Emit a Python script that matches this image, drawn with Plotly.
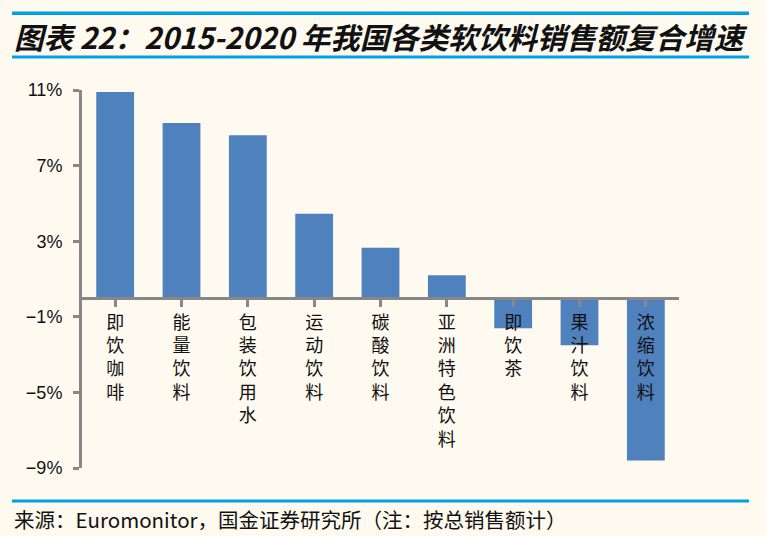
import plotly.graph_objects as go

categories = ["即饮咖啡", "能量饮料", "包装饮用水", "运动饮料", "碳酸饮料",
              "亚洲特色饮料", "即饮茶", "果汁饮料", "浓缩饮料"]
cagr = [10.9, 9.25, 8.6, 4.45, 2.65, 1.2, -1.6, -2.5, -8.6]
y_tickvals = [-9, -5, -1, 3, 7, 11]
y_ticktext = ["−9%", "−5%", "−1%", "3%", "7%", "11%"]
title_text = "图表 22：2015-2020 年我国各类软饮料销售额复合增速"
source_text = "来源：Euromonitor，国金证券研究所（注：按总销售额计）"

W, H = 766, 536
L, R, T, B = 82, 87, 90, 68
pw, ph = W - L - R, H - T - B
BG = "#FEFAF0"
LINE_BLUE = "#00A0E9"
AXIS_GRAY = "#878787"
CJK = "Noto Sans CJK SC, sans-serif"

def px_x(x):
    return (x - L) / pw

def px_y(y):
    return (H - B - y) / ph

ymin, ymax = -9, 11
zero_pos = (0 - ymin) / (ymax - ymin)

fig = go.Figure(go.Bar(
    x=list(range(len(categories))), y=cagr,
    marker=dict(color="#4F81BD", line=dict(width=0)),
    hoverinfo="skip",
))

fig.update_layout(
    width=W, height=H,
    margin=dict(l=L, r=R, t=T, b=B),
    paper_bgcolor=BG, plot_bgcolor=BG,
    bargap=0.43,
    showlegend=False,
    xaxis=dict(
        tickmode="array",
        tickvals=list(range(len(categories))),
        ticktext=["<br>".join(list(c)) for c in categories],
        range=[-0.5, len(categories) - 0.5],
        anchor="free", position=zero_pos,
        showline=True, linecolor=AXIS_GRAY, linewidth=3,
        ticks="outside", tickson="boundaries", ticklen=7,
        tickcolor=AXIS_GRAY, tickwidth=3,
        showgrid=False, zeroline=False,
        tickfont=dict(family=CJK, size=18, color="#111111"),
    ),
    yaxis=dict(
        range=[ymin, ymax],
        tickmode="array", tickvals=y_tickvals, ticktext=y_ticktext,
        showline=True, linecolor=AXIS_GRAY, linewidth=3,
        ticks="outside", ticklen=6, tickcolor=AXIS_GRAY, tickwidth=3,
        ticklabelstandoff=7,
        showgrid=False, zeroline=False,
        tickfont=dict(family="Liberation Sans, Arial, sans-serif", size=18, color="#111111"),
    ),
)

# separator rules: top, under title, above source
for yy in (13, 57, 501):
    fig.add_shape(type="rect", xref="paper", yref="paper",
                  x0=px_x(12), x1=px_x(749), y0=px_y(yy - 1.5), y1=px_y(yy + 1.5),
                  fillcolor=LINE_BLUE, line=dict(width=0), layer="above")

# top rule also as a filled annotation box
fig.add_annotation(
    text=" ", xref="paper", yref="paper",
    x=px_x(12), xanchor="left", y=px_y(13), yanchor="middle",
    width=737, height=3, bgcolor=LINE_BLUE, borderpad=0, borderwidth=0,
    showarrow=False, font=dict(size=1, color=LINE_BLUE),
)

fig.add_annotation(
    text=title_text, xref="paper", yref="paper",
    x=px_x(12), xanchor="left", y=px_y(36), yanchor="middle",
    showarrow=False,
    font=dict(family=CJK, size=29.5, color="#111111", weight="bold", style="italic"),
)

fig.add_annotation(
    text=source_text, xref="paper", yref="paper",
    x=px_x(12), xanchor="left", y=px_y(519), yanchor="middle",
    showarrow=False,
    font=dict(family=CJK, size=20.5, color="#111111"),
)

fig.write_html(
    "out.html",
    config={"displayModeBar": False},
    post_script="document.body.style.margin='0';document.body.style.background='#FEFAF0';",
)
